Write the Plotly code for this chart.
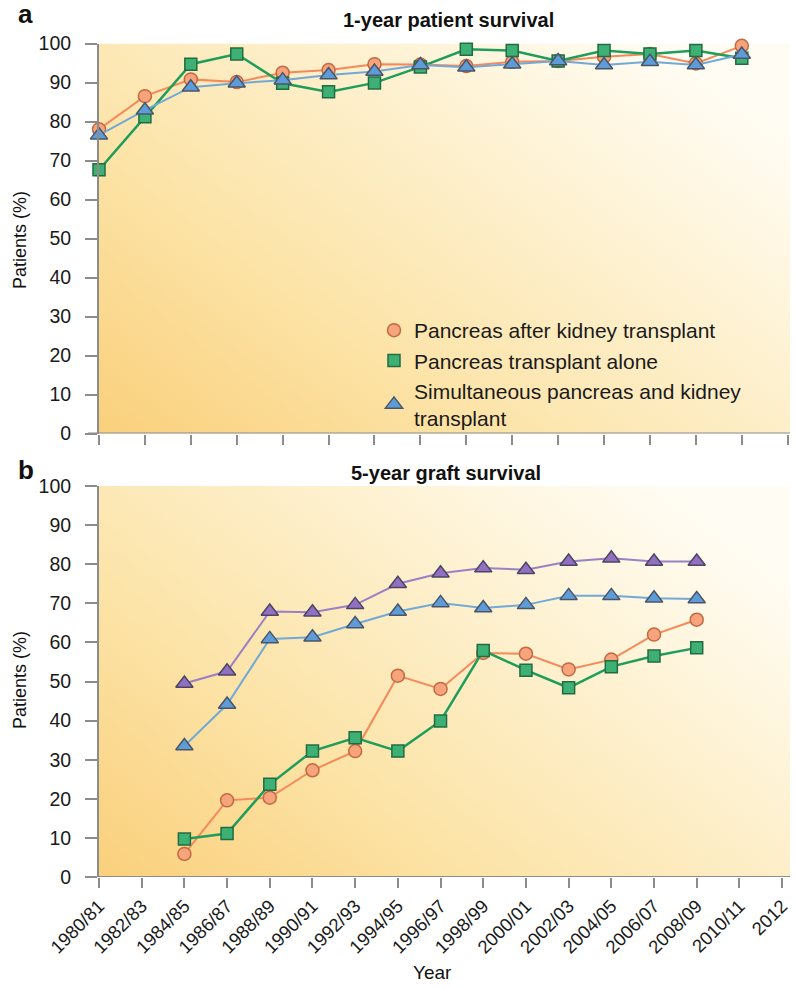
import base64
import plotly.graph_objects as go

# ---------------- data ----------------
top_years = [1980, 1982, 1984, 1986, 1988, 1990, 1992, 1994, 1996, 1998, 2000, 2002, 2004, 2006, 2008]
top_pak = [78.0, 86.5, 90.8, 90.1, 92.5, 93.2, 94.7, 94.6, 94.2, 95.3, 95.5, 96.6, 97.3, 94.9, 99.4]
top_pta = [67.6, 81.2, 94.7, 97.3, 89.8, 87.6, 89.9, 94.0, 98.5, 98.2, 95.5, 98.2, 97.3, 98.2, 96.2]
top_spk = [76.5, 82.9, 88.8, 89.8, 90.6, 91.9, 92.8, 94.5, 93.9, 94.7, 95.5, 94.5, 95.3, 94.5, 97.2]

bot_years = [1984, 1986, 1988, 1990, 1992, 1994, 1996, 1998, 2000, 2002, 2004, 2006, 2008]
bot_pak = [5.9, 19.6, 20.3, 27.3, 32.2, 51.5, 48.1, 57.3, 57.1, 53.1, 55.6, 62.0, 65.8]
bot_pta = [9.7, 11.1, 23.7, 32.2, 35.6, 32.2, 39.9, 57.9, 52.9, 48.4, 53.8, 56.5, 58.6]
bot_spk = [33.5, 44.1, 60.9, 61.3, 64.7, 67.9, 70.1, 68.8, 69.6, 71.9, 71.9, 71.3, 71.1]
bot_other = [49.5, 52.6, 67.9, 67.7, 69.6, 75.0, 77.7, 79.0, 78.6, 80.7, 81.5, 80.7, 80.7]

x_tickvals = [1980, 1982, 1984, 1986, 1988, 1990, 1992, 1994, 1996, 1998, 2000, 2002, 2004, 2006, 2008, 2010, 2012]
x_ticktext = ["1980/81", "1982/83", "1984/85", "1986/87", "1988/89", "1990/91", "1992/93", "1994/95",
              "1996/97", "1998/99", "2000/01", "2002/03", "2004/05", "2006/07", "2008/09", "2010/11", "2012"]
top_tickvals = [1980, 1982, 1984, 1986, 1988, 1990, 1992, 1994, 1996, 1998, 2000, 2002, 2004, 2006, 2008, 2010]
y_tickvals = [0, 10, 20, 30, 40, 50, 60, 70, 80, 90, 100]

names = ["Pancreas after kidney transplant", "Pancreas transplant alone",
         "Simultaneous pancreas and kidney<br>transplant"]

# ---------------- style ----------------
W, H = 797, 988
FONT = "Liberation Sans, Arial, Helvetica, sans-serif"
AX = "#8c8c8c"
X0, X1 = 99, 790
TOP_Y0, TOP_Y100 = 433.5, 43.5
BOT_Y0, BOT_Y100 = 877, 486

def px(x):
    return x / W

def py(y):
    return 1 - y / H

styles = {
    "pak": dict(line=dict(color="#F5895A", width=2),
                marker=dict(symbol="circle", size=13, color="#F7A47C", line=dict(color="#C06a42", width=1.5))),
    "pta": dict(line=dict(color="#1F9D5A", width=2.5),
                marker=dict(symbol="square", size=12, color="#3DB074", line=dict(color="#236B43", width=1.5))),
    "spk": dict(line=dict(color="#72A9D6", width=2),
                marker=dict(symbol="triangle-up", size=15, color="#5E9CD8", line=dict(color="#4B5568", width=1.5))),
    "oth": dict(line=dict(color="#9A80C4", width=2),
                marker=dict(symbol="triangle-up", size=15, color="#9170C2", line=dict(color="#4E4462", width=1.5))),
}

fig = go.Figure()

for ys, key in [(top_pak, "pak"), (top_pta, "pta"), (top_spk, "spk")]:
    fig.add_trace(go.Scatter(x=top_years, y=ys, mode="lines+markers", xaxis="x", yaxis="y",
                             cliponaxis=False, showlegend=False, **styles[key]))

for ys, key in [(bot_other, "oth"), (bot_spk, "spk"), (bot_pak, "pak"), (bot_pta, "pta")]:
    fig.add_trace(go.Scatter(x=bot_years, y=ys, mode="lines+markers", xaxis="x2", yaxis="y2",
                             cliponaxis=False, showlegend=False, **styles[key]))

# legend entries (markers only, as in the reference legend)
for key, nm in [("pak", names[0]), ("pta", names[1]), ("spk", names[2])]:
    fig.add_trace(go.Scatter(x=[None], y=[None], mode="markers", name=nm, xaxis="x", yaxis="y",
                             marker=styles[key]["marker"], showlegend=True))

# gradient background as svg image
svg = ('<svg xmlns="http://www.w3.org/2000/svg" width="100" height="100" viewBox="0 0 100 100" '
       'preserveAspectRatio="none"><defs><linearGradient id="g" x1="0" y1="1" x2="1" y2="0.25">'
       '<stop offset="0" stop-color="#FAD07C"/><stop offset="0.35" stop-color="#FCE3A6"/>'
       '<stop offset="0.75" stop-color="#FEF3D6"/><stop offset="1" stop-color="#FFFCF3"/>'
       '</linearGradient></defs><rect width="100" height="100" fill="url(#g)"/></svg>')
src = "data:image/svg+xml;base64," + base64.b64encode(svg.encode()).decode()

images = []
for y100, y0 in [(TOP_Y100, TOP_Y0), (BOT_Y100, BOT_Y0)]:
    images.append(dict(source=src, xref="paper", yref="paper", x=px(X0), y=py(y100),
                       sizex=px(X1) - px(X0), sizey=(y0 - y100) / H, sizing="stretch",
                       xanchor="left", yanchor="top", layer="below"))

xdom = [px(X0), px(X1)]
common_y = dict(range=[0, 100], tickvals=y_tickvals, showgrid=False, zeroline=False, showline=True,
                linecolor=AX, linewidth=2, ticks="outside", ticklen=12, tickwidth=2, tickcolor=AX,
                automargin=False, ticklabelstandoff=10,
                tickfont=dict(family=FONT, size=19.5, color="#1a1a1a"))

fig.update_layout(
    width=W, height=H, margin=dict(l=0, r=0, t=0, b=0, autoexpand=False),
    paper_bgcolor="white", plot_bgcolor="rgba(0,0,0,0)",
    images=images,
    xaxis=dict(domain=xdom, range=[1980, 2010.1], tickvals=top_tickvals, showticklabels=False,
               showgrid=False, zeroline=False, showline=False, ticks="outside", ticklen=10,
               tickwidth=2, tickcolor=AX, anchor="y", automargin=False),
    yaxis=dict(domain=[py(TOP_Y0), py(TOP_Y100)], anchor="x", **common_y),
    xaxis2=dict(domain=xdom, range=[1980, 2012.37], tickvals=x_tickvals, ticktext=x_ticktext,
                tickangle=-45, showgrid=False, zeroline=False, showline=False, ticks="outside",
                ticklen=10, tickwidth=2, tickcolor=AX, anchor="y2", automargin=False,
                ticklabelstandoff=0,
                tickfont=dict(family=FONT, size=18.5, color="#1a1a1a")),
    yaxis2=dict(domain=[py(BOT_Y0), py(BOT_Y100)], anchor="x2", **common_y),
    legend=dict(x=px(374), y=py(310), xanchor="left", yanchor="top", bgcolor="rgba(0,0,0,0)",
                font=dict(family=FONT, size=21, color="#1a1a1a"), tracegroupgap=0),
    showlegend=True,
)

# x axis lines extending slightly left of the y axes
for yref in ["y", "y2"]:
    fig.add_shape(type="line", xref="paper", yref=yref, x0=px(88), x1=px(X1), y0=0, y1=0,
                  line=dict(color=AX, width=2), layer="above")

ann = [
    dict(text="<b>a</b>", x=px(16), y=py(14), size=26, xanchor="left"),
    dict(text="<b>b</b>", x=px(16), y=py(470), size=26, xanchor="left"),
    dict(text="<b>1-year patient survival</b>", x=px(448), y=py(20), size=20, xanchor="center"),
    dict(text="<b>5-year graft survival</b>", x=px(446), y=py(473), size=20, xanchor="center"),
    dict(text="Year", x=px(432), y=py(972), size=19, xanchor="center"),
]
for a in ann:
    fig.add_annotation(text=a["text"], x=a["x"], y=a["y"], xref="paper", yref="paper",
                       xanchor=a["xanchor"], yanchor="middle", showarrow=False,
                       font=dict(family=FONT, size=a["size"], color="#111"))
for yc in [240, 680]:
    fig.add_annotation(text="Patients (%)", x=px(20), y=py(yc), xref="paper", yref="paper",
                       xanchor="center", yanchor="middle", showarrow=False, textangle=-90,
                       font=dict(family=FONT, size=18, color="#111"))

fig.write_html("out.html")
